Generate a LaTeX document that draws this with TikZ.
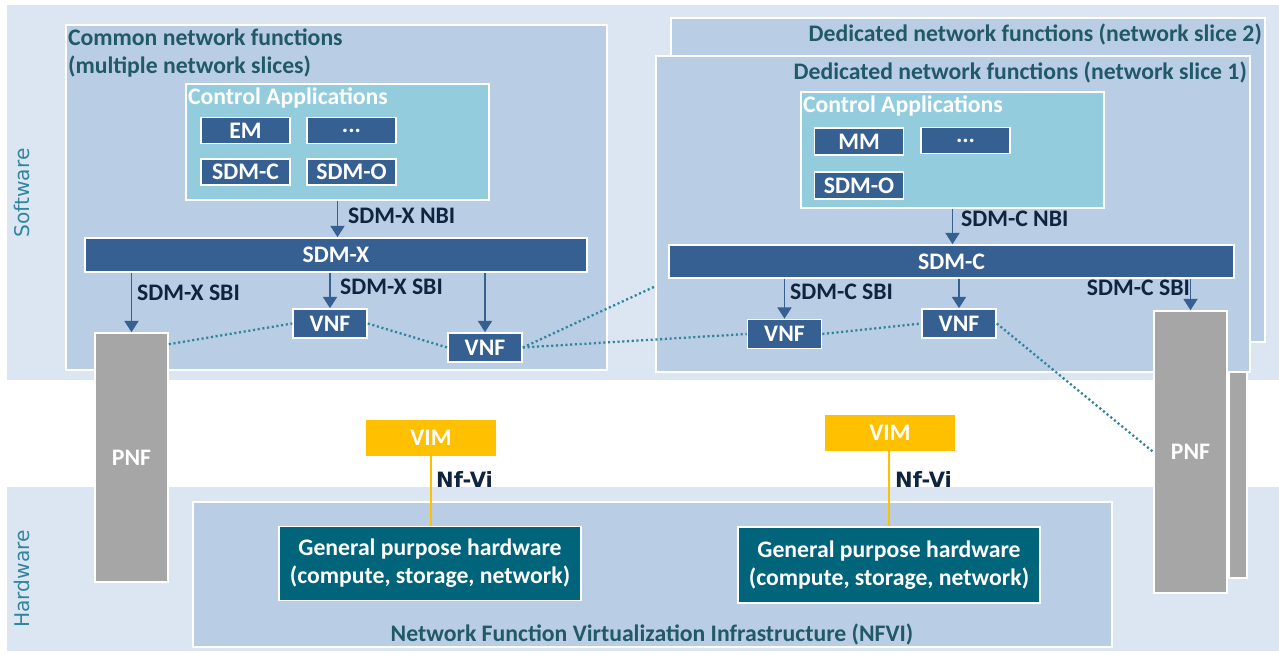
\documentclass[tikz,border=0pt]{standalone}
\usepackage{fontspec}
\setmainfont{Carlito}
\newfontfamily\bandfont{DejaVu Sans}
\usepackage{tikz}
\usetikzlibrary{arrows.meta, positioning, fit}
\definecolor{bandBlue}{HTML}{DCE6F2}
\definecolor{panelBlue}{HTML}{B9CDE5}
\definecolor{ctrlCyan}{HTML}{93CDDD}
\definecolor{appBlue}{HTML}{376092}
\definecolor{titleTeal}{HTML}{215967}
\definecolor{bandTeal}{HTML}{31859C}
\definecolor{labelNavy}{HTML}{0F243E}
\definecolor{linkTeal}{HTML}{31849B}
\definecolor{vimYellow}{HTML}{FFC000}
\definecolor{hwTeal}{HTML}{00647A}
\definecolor{pnfGray}{HTML}{A6A6A6}

\begin{document}
\begin{tikzpicture}[
    x=0.02cm, y=-0.02cm,
    every node/.style={font=\fontsize{13.5}{16}\selectfont\bfseries},
    panel/.style={draw=white, line width=0.9pt, fill=panelBlue, inner sep=0pt},
    ctrl/.style={draw=white, line width=0.9pt, fill=ctrlCyan, inner sep=0pt},
    appbox/.style={draw=white, line width=0.9pt, fill=appBlue, text=white,
      minimum width=1.78cm, minimum height=0.52cm, inner sep=0pt},
    sdmbar/.style={appbox, minimum height=0.68cm},
    vnf/.style={appbox, minimum width=1.48cm, minimum height=0.58cm},
    pnf/.style={draw=white, line width=0.9pt, fill=pnfGray, text=white,
      minimum width=1.46cm, inner sep=0pt},
    vim/.style={fill=vimYellow, text=white, minimum width=2.6cm,
      minimum height=0.72cm, inner sep=0pt},
    hw/.style={draw=white, line width=0.9pt, fill=hwTeal, text=white, align=center,
      minimum width=6.04cm, minimum height=1.48cm, inner sep=0pt},
    paneltitle/.style={text=titleTeal, inner sep=1pt, align=left},
    ctrltitle/.style={text=white, inner sep=1pt, anchor=north west},
    iface/.style={text=labelNavy, inner sep=1pt},
    heavy/.style={font=\bandfont\fontsize{12}{14}\selectfont\bfseries},
    bandlabel/.style={font=\bandfont\fontsize{11.5}{13}\selectfont, text=bandTeal, rotate=90},
    sbi/.style={draw=appBlue, line width=1.1pt, -{Triangle[width=8pt,length=6.5pt]}},
    dotlink/.style={draw=linkTeal, line width=1.3pt, dash pattern=on 1.2pt off 1.5pt},
    nfvi/.style={draw=vimYellow, line width=1.2pt}
  ]

  \fill[white] (0,0) rectangle (1279,655);
  \useasboundingbox (0,0) rectangle (1279,655);

  % ── Software / hardware bands ───────────────────────────────────────────
  \fill[bandBlue] (7,5) rectangle (1279,380);
  \fill[bandBlue] (7,487) rectangle (1279,651);
  \node[bandlabel] (swlabel) at (22,193) {Software};
  \node[bandlabel] (hwlabel) at (22,579) {Hardware};

  % second PNF, sits behind the slice panels
  \node[pnf, minimum width=0pt, fit={(1229,320) (1247,578)}] (pnfBack) {};

  % ── Common network functions (left) ─────────────────────────────────────
  \node[panel, fit={(66,25) (607,370)}] (common) {};
  \node[paneltitle, anchor=north west] at (66,27)
    {Common network functions\\(multiple network slices)};

  \node[ctrl, fit={(186,84) (489,200)}] (ctrlX) {};
  \node[ctrltitle] at (186,86) {Control Applications};
  \node[appbox] (em)    at (245.5,130.5) {EM};
  \node[appbox] (moreX) at (351.5,130.5) {...};
  \node[appbox] (appC)  at (245.5,172)   {SDM-C};
  \node[appbox] (appO)  at (351.5,172)   {SDM-O};

  \node[sdmbar, minimum width=10.04cm] (sdmX) at (336,255) {SDM-X};

  % ── Dedicated network functions (right) ─────────────────────────────────
  \node[panel, fit={(671,18) (1265,342)}] (slice2) {};
  \node[paneltitle, anchor=north east] at (1264,22)
    {Dedicated network functions (network slice 2)};
  \node[panel, fit={(656,56) (1250,372)}] (slice1) {};
  \node[paneltitle, anchor=north east] at (1249,60)
    {Dedicated network functions (network slice 1)};

  \node[ctrl, fit={(801,92) (1104,208)}] (ctrlC) {};
  \node[ctrltitle] at (801,94) {Control Applications};
  \node[appbox, minimum height=0.54cm] (mm) at (859,141.5) {MM};
  \node[appbox] (moreC) at (965.5,140.5) {...};
  \node[appbox, minimum height=0.54cm] (appOC) at (859,185.5) {SDM-O};

  \node[sdmbar, minimum width=11.3cm, minimum height=0.66cm] (sdmC) at (951.5,261.5) {SDM-C};

  % ── VNF / PNF data plane ────────────────────────────────────────────────
  \coordinate (sliceLink) at (656,286);
  \node[vnf] (vnfA) at (330,323.5) {VNF};
  \node[vnf] (vnfB) at (485,347.5) {VNF};
  \node[vnf] (vnfC) at (784.5,334) {VNF};
  \node[vnf] (vnfD) at (959,323.5) {VNF};
  \node[pnf, minimum height=4.98cm] (pnfL) at (131.5,457.5) {PNF};

  \draw[dotlink] ([yshift=-0.24cm]pnfL.north east) -- (vnfA.west);
  \draw[dotlink] (vnfA.east) -- (vnfB.west);
  \draw[dotlink] (vnfB.east) -- (vnfC.west);
  \draw[dotlink] (vnfB.east) -- (sliceLink);
  \draw[dotlink] (vnfC.east) -- (vnfD.west);

  \node[pnf, minimum height=5.64cm] (pnfR) at (1190.5,452) {PNF};
  \draw[dotlink] (vnfD.east) -- (pnfR.west);

  % interfaces of SDM-X
  \draw[sbi] (ctrlX.south) -- (ctrlX.south |- sdmX.north);
  \node[iface, anchor=west] (nbiX) at (346,216) {SDM-X NBI};
  \draw[sbi] (sdmX.south -| pnfL.north) -- (pnfL.north);
  \draw[sbi] (sdmX.south -| vnfA.north) -- (vnfA.north);
  \draw[sbi] (sdmX.south -| vnfB.north) -- (vnfB.north);
  \node[iface, anchor=west] (sbiXa) at (135,293) {SDM-X SBI};
  \node[iface, anchor=west] (sbiXb) at (338,287) {SDM-X SBI};

  % interfaces of SDM-C
  \draw[sbi] (ctrlC.south) -- (ctrlC.south |- sdmC.north);
  \node[iface, anchor=west] (nbiC) at (959,219) {SDM-C NBI};
  \draw[sbi] (sdmC.south -| vnfC.north) -- (vnfC.north);
  \draw[sbi] (sdmC.south -| vnfD.north) -- (vnfD.north);
  \draw[sbi] (sdmC.south -| pnfR.north) -- (pnfR.north);
  \node[iface, anchor=west] (sbiCa) at (788,292) {SDM-C SBI};
  \node[iface, anchor=east] (sbiCb) at (1192,288) {SDM-C SBI};

  % ── NFVI ────────────────────────────────────────────────────────────────
  \node[panel, fit={(193,502) (1112,647)}] (nfviBox) {};
  \node[paneltitle] (nfviLabel) at (652,634)
    {Network Function Virtualization Infrastructure (NFVI)};

  \node[hw] (hwL) at (430,563.5) {General purpose hardware\\(compute, storage, network)};
  \node[hw, minimum height=1.52cm] (hwR) at (889,565) {General purpose hardware\\(compute, storage, network)};

  \node[vim] (vimL) at (431,438) {VIM};
  \node[vim] (vimR) at (890,433) {VIM};

  \draw[nfvi] (vimL.south) -- (vimL.south |- hwL.north);
  \draw[nfvi] (vimR.south -| hwR.north) -- (hwR.north);
  \node[iface, heavy, anchor=west] (nfviL) at (434,479) {Nf-Vi};
  \node[iface, heavy, anchor=west] (nfviR) at (893,479) {Nf-Vi};

\end{tikzpicture}
\end{document}
